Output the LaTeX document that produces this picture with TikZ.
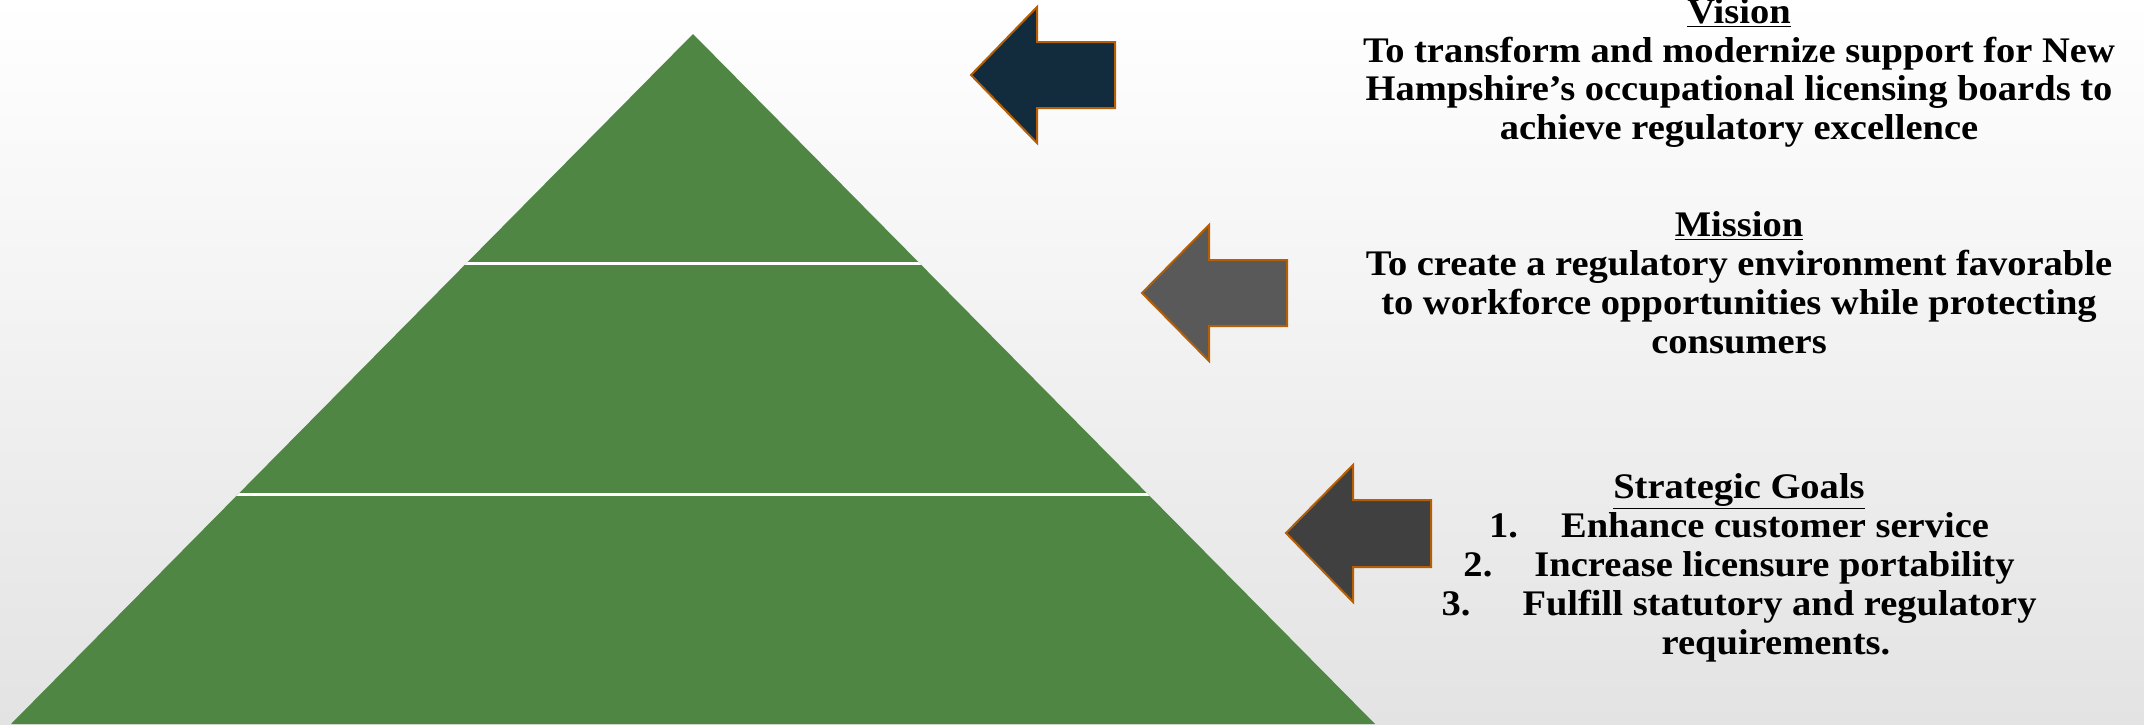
\documentclass[tikz,border=0pt]{standalone}
\usepackage{fontspec}
\setmainfont{Liberation Serif}[FakeStretch=1.07]
\definecolor{bgtop}{HTML}{FFFFFF}
\definecolor{bgmid}{HTML}{F7F7F7}
\definecolor{bgbot}{HTML}{E3E3E3}
\definecolor{pyr}{HTML}{4F8643}
\definecolor{edge}{HTML}{B45F06}
\definecolor{navy}{HTML}{122B3D}
\definecolor{midgray}{HTML}{595959}
\definecolor{darkgray2}{HTML}{404040}
\tikzset{
  txt/.style={anchor=base, inner sep=0pt, font=\fontsize{18}{21}\selectfont\bfseries},
  arrowshape/.style={draw=edge, line width=1pt, line join=miter}
}
\begin{document}
\begin{tikzpicture}[x=0.5pt,y=-0.5pt]
\useasboundingbox (0,0) rectangle (2144,724);
\shade[top color=bgtop, middle color=bgmid, bottom color=bgbot] (0,0) rectangle (2144,724);
% pyramid
\coordinate (apex) at (693,34);
\coordinate (bl) at (11,724);
\coordinate (br) at (1375,724);
\fill[pyr] (apex) -- (br) -- (bl) -- cycle;
\begin{scope}
  \clip (apex) -- (br) -- (bl) -- cycle;
  \draw[white, line width=1.5pt] (0,263) -- (1400,263);
  \draw[white, line width=1.5pt] (0,494) -- (1400,494);
\end{scope}
% arrows
\draw[arrowshape, fill=navy] (971,75) -- (1037,7) -- (1037,42) -- (1115,42) -- (1115,108) -- (1037,108) -- (1037,143) -- cycle;
\draw[arrowshape, fill=midgray] (1142,293) -- (1209,225) -- (1209,260) -- (1287,260) -- (1287,326) -- (1209,326) -- (1209,361) -- cycle;
\draw[arrowshape, fill=darkgray2] (1286,533) -- (1353,465) -- (1353,500) -- (1431,500) -- (1431,567) -- (1353,567) -- (1353,602) -- cycle;
% vision
\node[txt] (v0) at (1739,23) {\underline{Vision}};
\node[txt] (v1) at (1739,62) {To transform and modernize support for New};
\node[txt] (v2) at (1739,100) {Hampshire’s occupational licensing boards to};
\node[txt] (v3) at (1739,139) {achieve regulatory excellence};
% mission
\node[txt] (m0) at (1739,236) {\underline{Mission}};
\node[txt] (m1) at (1739,275) {To create a regulatory environment favorable};
\node[txt] (m2) at (1739,314) {to workforce opportunities while protecting};
\node[txt] (m3) at (1739,353) {consumers};
% goals
\node[txt] (g0) at (1739,498) {\underline{Strategic Goals}};
\node[txt] (g1) at (1739,537) {\makebox[36pt][l]{1.}Enhance customer service};
\node[txt] (g2) at (1739,576) {\makebox[35.5pt][l]{2.}Increase licensure portability};
\node[txt] (g3) at (1739,615) {\makebox[40.5pt][l]{3.}Fulfill statutory and regulatory};
\node[txt] (g4) at (1776,654) {requirements.};
\end{tikzpicture}
\end{document}
